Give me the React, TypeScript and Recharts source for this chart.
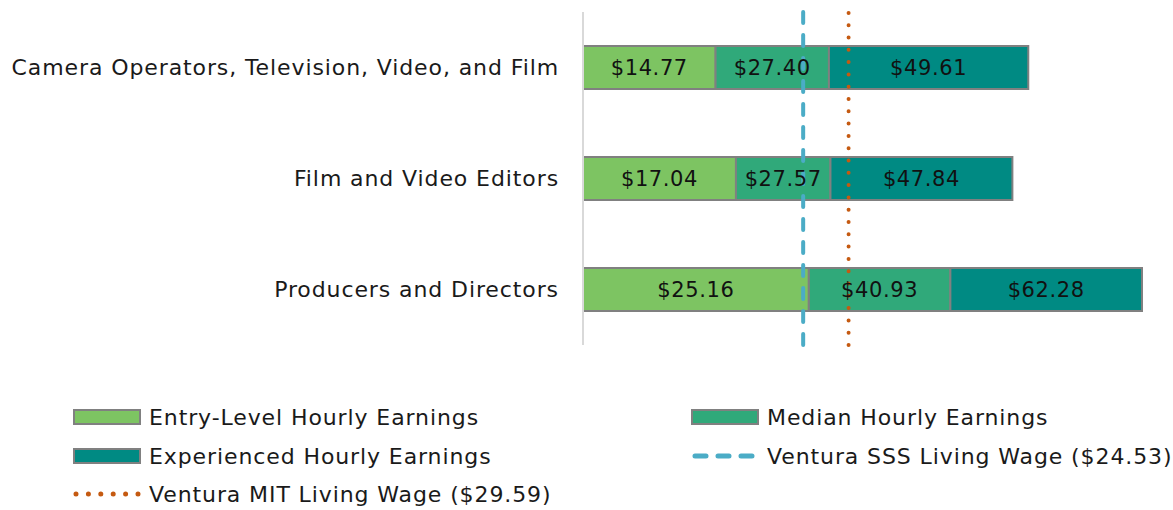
import React from "react";
import { BarChart, Bar, XAxis, YAxis, ReferenceLine, LabelList, Legend } from "recharts";

const categories = [
  "Camera Operators, Television, Video, and Film",
  "Film and Video Editors",
  "Producers and Directors",
];
const entryLevel = [14.77, 17.04, 25.16];
const median = [27.4, 27.57, 40.93];
const experienced = [49.61, 47.84, 62.28];
const sssWage = 24.53;
const mitWage = 29.59;

const legendLabels = [
  "Entry-Level Hourly Earnings",
  "Median Hourly Earnings",
  "Experienced Hourly Earnings",
  "Ventura SSS Living Wage ($24.53)",
  "Ventura MIT Living Wage ($29.59)",
];

const C_ENTRY = "#7DC462";
const C_MEDIAN = "#30A97A";
const C_EXP = "#008A83";
const C_SSS = "#4BACC6";
const C_MIT = "#C55A11";
const FONT = "'DejaVu Sans', sans-serif";

const data = categories.map((name, i) => ({
  name,
  entryPart: entryLevel[i],
  medianPart: median[i] - entryLevel[i],
  expPart: experienced[i] - median[i],
  entryVal: entryLevel[i],
  medianVal: median[i],
  expVal: experienced[i],
}));

const fmt = (v: any) => "$" + Number(v).toFixed(2);

const Swatch = ({ color }: { color: string }) => (
  <div style={{ width: 64, height: 12, background: color, border: "2px solid #808080" }} />
);

const LegendItem = ({ x, y, icon, text }: any) => (
  <div style={{ position: "absolute", left: x, top: y, display: "flex", alignItems: "center", height: 30 }}>
    <div style={{ width: 76, display: "flex", alignItems: "center" }}>{icon}</div>
    <span style={{ fontFamily: FONT, fontSize: 22, letterSpacing: 0.9, color: "#1a1a1a", whiteSpace: "nowrap" }}>{text}</span>
  </div>
);

const renderLegend = () => (
  <div style={{ position: "relative", width: 1173, height: 115 }}>
    <LegendItem x={73} y={7} icon={<Swatch color={C_ENTRY} />} text={legendLabels[0]} />
    <LegendItem x={691} y={7} icon={<Swatch color={C_MEDIAN} />} text={legendLabels[1]} />
    <LegendItem x={73} y={46} icon={<Swatch color={C_EXP} />} text={legendLabels[2]} />
    <LegendItem
      x={691}
      y={46}
      icon={
        <svg width={70} height={10}>
          <line x1={4} y1={5} x2={66} y2={5} stroke={C_SSS} strokeWidth={5} strokeDasharray="11 12" strokeLinecap="round" />
        </svg>
      }
      text={legendLabels[3]}
    />
    <LegendItem
      x={73}
      y={84}
      icon={
        <svg width={70} height={10}>
          <line x1={3} y1={5} x2={66} y2={5} stroke={C_MIT} strokeWidth={5} strokeDasharray="0 12.4" strokeLinecap="round" />
        </svg>
      }
      text={legendLabels[4]}
    />
  </div>
);

const labelStyle = { fontFamily: FONT, fontSize: 21, letterSpacing: 0.6, fill: "#111" };

export default function App() {
  return (
    <div style={{ position: "absolute", left: 0, top: 0, width: 1173, height: 510, background: "#fff" }}>
      <BarChart
        width={1173}
        height={510}
        data={data}
        layout="vertical"
        margin={{ top: 12, right: 31, bottom: 165, left: 0 }}
        barSize={43}
      >
        <XAxis type="number" hide domain={[0, "dataMax"]} />
        <YAxis
          type="category"
          dataKey="name"
          width={583}
          axisLine={{ stroke: "#D9D9D9", strokeWidth: 2 }}
          tickLine={false}
          tickSize={0}
          tickMargin={24}
          tick={{ fontFamily: FONT, fontSize: 22, letterSpacing: 0.9, fill: "#1a1a1a" }}
        />
        <Bar dataKey="entryPart" stackId="a" fill={C_ENTRY} stroke="#808080" strokeWidth={2} isAnimationActive={false}>
          <LabelList dataKey="entryVal" position="center" formatter={fmt} style={labelStyle} />
        </Bar>
        <Bar dataKey="medianPart" stackId="a" fill={C_MEDIAN} stroke="#808080" strokeWidth={2} isAnimationActive={false}>
          <LabelList dataKey="medianVal" position="center" formatter={fmt} style={labelStyle} />
        </Bar>
        <Bar dataKey="expPart" stackId="a" fill={C_EXP} stroke="#808080" strokeWidth={2} isAnimationActive={false}>
          <LabelList dataKey="expVal" position="center" formatter={fmt} style={labelStyle} />
        </Bar>
        <ReferenceLine x={sssWage} stroke={C_SSS} strokeWidth={4} strokeDasharray="11 12" strokeLinecap="round" />
        <ReferenceLine x={mitWage} stroke={C_MIT} strokeWidth={4} strokeDasharray="0 12.3" strokeLinecap="round" />
        <Legend
          layout="horizontal"
          verticalAlign="middle"
          align="center"
          content={renderLegend}
          wrapperStyle={{ position: "absolute", left: 0, top: 395, width: 1173, height: 115 }}
        />
      </BarChart>
    </div>
  );
}
